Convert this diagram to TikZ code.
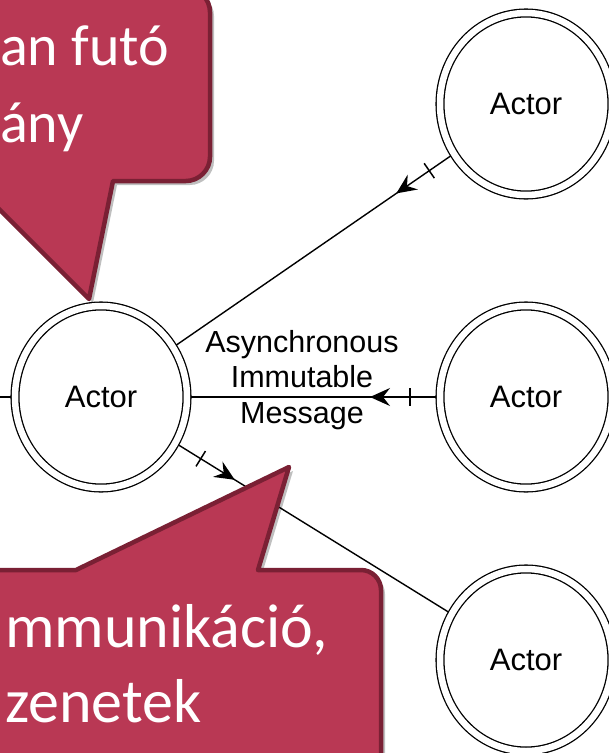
\documentclass[tikz,border=0pt]{standalone}
\usepackage{fontspec}
\newfontfamily\calloutfont{Carlito}
\newfontfamily\actorfont{Liberation Sans}
\definecolor{bubblefill}{RGB}{185,56,84}
\definecolor{bubbleline}{RGB}{122,32,52}
\usetikzlibrary{arrows.meta,decorations.markings,shapes.geometric,shadows}

\begin{document}
\begin{tikzpicture}[x=1pt, y=-1pt,
    actor/.style={ellipse, draw, double, double distance=6.5pt, line width=1.3pt,
        minimum width=172pt, minimum height=182pt, inner sep=0pt, outer sep=4pt,
        font=\actorfont\fontsize{31}{37}\selectfont},
    msg/.style={line width=1.4pt, postaction={decorate}, decoration={markings,
        mark=at position 26pt with {\draw[line width=1.5pt] (0pt,-9pt) -- (0pt,9pt);},
        mark=at position 66pt with {\arrow{Stealth[length=20pt,width=18pt,inset=7pt]}}}},
    bubble/.style={fill=bubblefill, draw=bubbleline, line width=4.5pt, line join=round,
        drop shadow={shadow xshift=4pt, shadow yshift=-4pt, fill=black, opacity=0.25}},
    bubbletext/.style={anchor=base west, text=white, inner sep=0pt}]
    \useasboundingbox (0,0) rectangle (609,753);
    \clip (0,0) rectangle (609,753);
    % szereplők (dupla ellipszis)
    \node[actor] (leftactor) at (101,397) {Actor};
    \node[actor] (topactor) at (526,104) {Actor};
    \node[actor] (midactor) at (526,397) {Actor};
    \node[actor] (botactor) at (526,660) {Actor};
    % üzenetek: vonás, majd nyílhegy a küldő oldalán
    \draw[msg] (topactor) -- (leftactor);
    \draw[msg] (midactor) -- node[pos=0.547, yshift=17pt, align=center, inner sep=0pt,
        font=\actorfont\fontsize{30.5}{35.5}\selectfont] (msglabel)
        {Asynchronous\\Immutable\\Message} (leftactor);
    \draw[msg] (leftactor) -- (botactor);
    \coordinate (offleft) at (-20,397);
    \draw[line width=1.3pt] (leftactor) -- (offleft);
    % felső buborék
    \draw[bubble] (-80,-12) -- (186,-12) .. controls (199,-12) and (210,-1) .. (210,12)
        -- (210,157) .. controls (210,170) and (199,181) .. (186,181)
        -- (113,181) -- (89,299) -- (-29,181) -- (-80,181) -- cycle;
    \node[bubbletext, font=\calloutfont\fontsize{58}{76}\selectfont] (threadA) at (0,65) {an futó};
    \node[bubbletext, font=\calloutfont\fontsize{58}{76}\selectfont] (threadB) at (0,142) {ány};
    % alsó buborék
    \draw[bubble] (-80,570) -- (76,570) -- (289,467) -- (258,570)
        -- (361,570) .. controls (372,570) and (381,579) .. (381,590)
        -- (381,820) -- (-80,820) -- cycle;
    \node[bubbletext, font=\calloutfont\fontsize{62}{76}\selectfont] (commA) at (5,647) {mmunikáció,};
    \node[bubbletext, font=\calloutfont\fontsize{62}{76}\selectfont] (commB) at (5,722) {zenetek};
\end{tikzpicture}
\end{document}
